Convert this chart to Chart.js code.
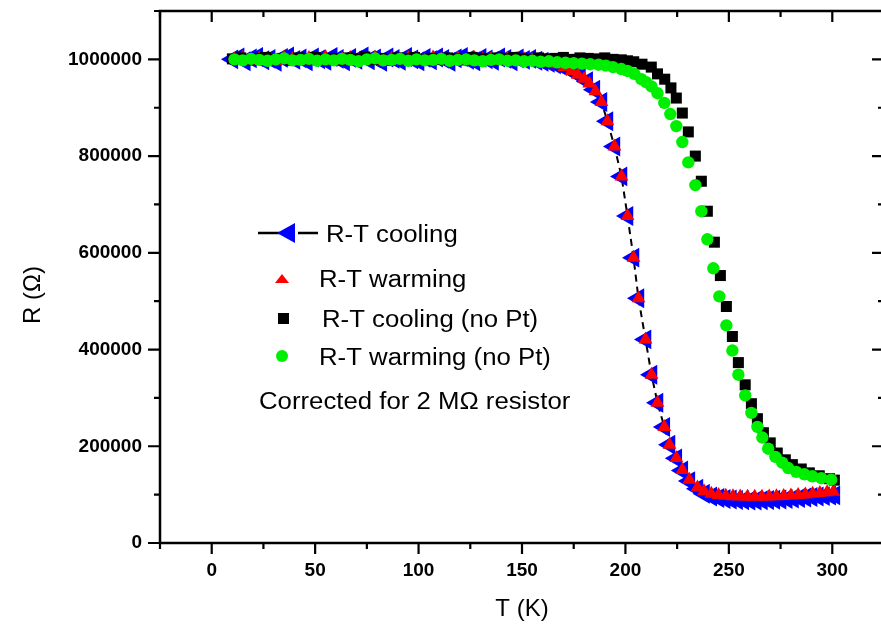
<!DOCTYPE html>
<html>
<head>
<meta charset="utf-8">
<script src="https://cdn.jsdelivr.net/npm/chart.js@4"></script>
<style>
  html, body { margin: 0; padding: 0; background: #fff; overflow: hidden; }
  #wrap { width: 890px; height: 626px; }
</style>
</head>
<body>
<div id="wrap"><canvas id="graficoRT" width="890" height="626"></canvas></div>
<script>
// R-T cooling (blue triangles + dashed line)
const coolT = [10,13,16,19,22,25,28,31,34,37,40,43,46,49,52,55,58,61,64,67,70,73,76,79,82,85,88,91,94,97,
  100,103,106,109,112,115,118,121,124,127,130,133,136,139,142,145,148,151,154,157,160,163,166,169,172,175,178,
  181.5,185,188.4,191.3,194.7,198.1,201,203.9,206.3,209.7,212.6,215.5,218.8,221.3,224.6,227.5,230.9,234.8,238,241.5,245,
  248,251,254,257,260,263,266,269,272,275,278,281,284,287,290,293,296,299,301];
const coolR = [1000000,1004000,996000,1002000,1005000,998000,1001000,995000,1003000,1006000,
  999000,1002000,996000,1004000,1000000,997000,1005000,1001000,996000,1003000,
  999000,1006000,998000,1002000,995000,1004000,1001000,997000,1005000,1000000,
  996000,1003000,998000,1004000,1001000,995000,1002000,1005000,999000,996000,
  1003000,1000000,997000,1004000,1001000,996000,1002000,999000,1001000,997000,
  995000,993000,990000,986000,981000,974000,966000,
  955000,937000,912000,872000,820000,758000,676000,590000,506000,421000,348000,290000,240000,203000,175000,150000,128000,112000,102000,96000,93000,
  91000,90000,89000,88500,88000,88000,88500,89000,89500,90000,91000,92000,93000,94000,95000,96000,97000,98000,98500];

// R-T warming (red triangles)
const warmT = [11,15,19,23,27,31,35,39,43,47,51,55,59,63,67,71,75,79,83,87,91,95,99,103,107,111,115,119,123,127,
  131,135,139,143,147,151,155,159,
  163,167,170.5,174,177,180,182.5,185.5,188.4,191.3,194.7,198.1,201,203.9,206.3,209.7,212.6,215.5,218.8,221.3,
  224.6,227.5,230.9,234.8,238,241.5,245,248.5,252,255.5,259,262.5,266,269.5,273,276.5,280,283.5,287,290.5,294,297.5,300.5];
const warmR = [999000,1003000,997000,1002000,1000000,996000,1004000,1001000,998000,1003000,
  999000,1005000,997000,1001000,1003000,998000,1000000,1004000,996000,1002000,
  999000,1003000,1001000,997000,1004000,1000000,998000,1002000,996000,1003000,
  1000000,1001000,997000,1002000,999000,1000000,998000,996000,
  994000,990000,984000,976000,968000,960000,950000,934000,912000,872000,
  820000,758000,676000,590000,506000,421000,348000,290000,240000,203000,
  176000,151000,131000,115000,107000,102000,99000,97500,96500,96000,
  95500,95500,95500,96000,96500,97000,98000,99000,100500,102000,103500,105000,106000];

// R-T cooling (no Pt) (black squares)
const coolNoPtT = [10,14,18,22,26,30,34,38,42,46,50,54,58,62,66,70,74,78,82,86,90,94,98,102,106,110,114,118,122,126,
  130,134,138,142,146,150,154,158,162,166,170,174,178,182,186,190,194,198,
  201,204,208,212.5,215.5,219,222,224.6,227.5,230.4,233.8,236.7,239.6,243,245.9,248.8,251.7,254.6,257.9,260.9,
  263.8,266.7,270,273.4,277.3,280.7,285,288.9,293.7,298.6,301];
const coolNoPtR = [1001000,1003000,999000,1002000,1004000,1000000,1002000,998000,1003000,1001000,
  1004000,1000000,1002000,999000,1003000,1001000,1005000,1000000,1002000,998000,
  1003000,1001000,1004000,999000,1002000,1000000,1003000,1001000,999000,1004000,
  1002000,1000000,1003000,1001000,1004000,1002000,999000,1003000,1001000,1002000,
  1004000,1000000,1003000,1002000,1001000,1003000,1000000,999000,
  997000,995000,990000,984000,970000,959000,941000,920000,889000,850000,
  800000,748000,686000,622000,553000,489000,427000,373000,327000,288000,
  257000,228000,207000,186000,172000,162000,153000,145000,139000,133000,130000];

// R-T warming (no Pt) (green circles)
const warmNoPtT = [11,15,19,23,27,31,35,39,43,47,51,55,59,63,67,71,75,79,83,87,91,95,99,103,107,111,115,119,123,127,
  131,135,139,143,147,151,155,159,163,167,171,175,179,183,
  187,190.5,194,198,201,204.3,207.7,210,212.6,215.5,218.8,221.7,224.6,227.5,230.4,233.8,236.7,239.6,242.5,245.4,
  248.8,251.7,254.6,257.9,260.9,263.8,266.2,269,272.5,275.8,278.7,282.6,286.5,290.3,294.7,299.5];
const warmNoPtR = [1000000,998000,1001000,999000,997000,1000000,1002000,998000,999000,1001000,
  997000,1000000,998000,1001000,999000,996000,1000000,1002000,998000,999000,
  1001000,997000,1000000,998000,999000,1001000,997000,999000,1000000,998000,
  996000,999000,1000000,997000,998000,996000,997000,995000,996000,994000,
  993000,992000,991000,990000,
  989000,987000,984000,980000,976000,970000,959000,953000,944000,930000,
  910000,887000,862000,829000,787000,740000,686000,628000,568000,510000,
  450000,398000,348000,305000,269000,240000,218000,195000,178000,166000,
  155000,147000,142000,138000,134000,131000];

const xTicksMin = -25, xTicksMax = 325, xStep = 25, xLabelStep = 50;
const yTicksMin = 0, yTicksMax = 1100000, yStep = 100000, yLabelStep = 200000, yLabelMax = 1000000;

const FONT = '"Liberation Sans", Arial, Helvetica, sans-serif';

function pairs(xs, ys) {
  return xs.map((x, i) => ({ x: x, y: ys[i] }));
}

// frame, inward/outward ticks, legend and axis titles
const framePlugin = {
  id: 'frame',
  afterDraw(chart) {
    const ctx = chart.ctx;
    const a = chart.chartArea;
    const xs = chart.scales.x, ys = chart.scales.y;
    ctx.save();
    ctx.strokeStyle = '#000';
    ctx.lineWidth = 2.5;
    ctx.strokeRect(a.left, a.top, a.right - a.left, a.bottom - a.top);

    ctx.lineWidth = 2.2;
    ctx.beginPath();
    xs.ticks.forEach(t => {
      const px = xs.getPixelForValue(t.value);
      const len = t.value % xLabelStep === 0 ? 11 : 6;
      ctx.moveTo(px, a.bottom); ctx.lineTo(px, a.bottom + len);
      ctx.moveTo(px, a.top); ctx.lineTo(px, a.top + len);
    });
    ys.ticks.forEach(t => {
      const py = ys.getPixelForValue(t.value);
      const len = t.value % yLabelStep === 0 ? 12 : 6;
      ctx.moveTo(a.left - len, py); ctx.lineTo(a.left, py);
      ctx.moveTo(a.right - len, py); ctx.lineTo(a.right, py);
    });
    ctx.stroke();

    // axis titles
    ctx.fillStyle = '#000';
    ctx.font = '24px ' + FONT;
    ctx.textAlign = 'center';
    ctx.textBaseline = 'middle';
    ctx.fillText('T (K)', (a.left + a.right) / 2, 609);
    ctx.save();
    ctx.translate(33, 295);
    ctx.rotate(-Math.PI / 2);
    ctx.fillText('R (\u03A9)', 0, 0);
    ctx.restore();

    // legend markers
    ctx.lineWidth = 2.5;
    ctx.beginPath();
    ctx.moveTo(258, 233); ctx.lineTo(280, 233);
    ctx.moveTo(298, 233); ctx.lineTo(318, 233);
    ctx.stroke();
    ctx.fillStyle = '#0000ff';
    ctx.beginPath();
    ctx.moveTo(277, 233); ctx.lineTo(295, 223); ctx.lineTo(295, 243); ctx.closePath();
    ctx.fill();

    ctx.fillStyle = '#ff0000';
    ctx.beginPath();
    ctx.moveTo(282, 274); ctx.lineTo(289, 283); ctx.lineTo(275, 283); ctx.closePath();
    ctx.fill();

    ctx.fillStyle = '#000';
    ctx.fillRect(278, 313, 11, 11);

    ctx.fillStyle = '#00ee00';
    ctx.beginPath();
    ctx.arc(282, 356, 6, 0, Math.PI * 2);
    ctx.fill();

    // legend texts (slightly wide lettering)
    ctx.fillStyle = '#000';
    ctx.font = '23px ' + FONT;
    ctx.textAlign = 'left';
    ctx.textBaseline = 'alphabetic';
    const texts = [
      ['R-T cooling', 326, 242],
      ['R-T warming', 319, 287],
      ['R-T cooling (no Pt)', 322, 327],
      ['R-T warming (no Pt)', 319, 365],
      ['Corrected for 2 M\u03A9 resistor', 259, 409]
    ];
    texts.forEach(([s, x, y]) => {
      ctx.save();
      ctx.translate(x, y);
      ctx.scale(1.12, 1);
      ctx.fillText(s, 0, 0);
      ctx.restore();
    });
    ctx.restore();
  }
};

new Chart(document.getElementById('graficoRT'), {
  type: 'scatter',
  data: {
    datasets: [
      {
        label: 'R-T cooling',
        data: pairs(coolT, coolR),
        showLine: true,
        borderColor: '#000',
        borderWidth: 2,
        borderDash: [7, 5],
        pointStyle: 'triangle',
        pointRotation: -90,
        pointRadius: 11.5,
        pointBackgroundColor: '#0000ff',
        pointBorderWidth: 0,
        order: 3
      },
      {
        label: 'R-T warming',
        data: pairs(warmT, warmR),
        pointStyle: 'triangle',
        pointRadius: 8,
        pointBackgroundColor: '#ff0000',
        pointBorderWidth: 0,
        order: 2
      },
      {
        label: 'R-T cooling (no Pt)',
        data: pairs(coolNoPtT, coolNoPtR),
        pointStyle: 'rect',
        pointRadius: 7.8,
        pointBackgroundColor: '#000000',
        pointBorderWidth: 0,
        order: 1
      },
      {
        label: 'R-T warming (no Pt)',
        data: pairs(warmNoPtT, warmNoPtR),
        pointStyle: 'circle',
        pointRadius: 6.2,
        pointBackgroundColor: '#00ee00',
        pointBorderWidth: 0,
        order: 0
      }
    ]
  },
  options: {
    responsive: false,
    animation: false,
    events: [],
    layout: { autoPadding: false, padding: { top: 11, right: 6, bottom: 0, left: 0 } },
    plugins: { legend: { display: false }, tooltip: { enabled: false } },
    scales: {
      x: {
        type: 'linear',
        min: xTicksMin,
        max: xTicksMax,
        grid: { display: false, drawTicks: false },
        border: { display: false },
        ticks: {
          stepSize: xStep,
          autoSkip: false,
          maxRotation: 0,
          padding: 16,
          color: '#000',
          font: { family: FONT, size: 19, weight: 'bold' },
          callback: v => (v >= 0 && v % xLabelStep === 0) ? String(v) : ''
        },
        afterFit: s => { s.height = 83; s.paddingLeft = 0; s.paddingRight = 0; }
      },
      y: {
        type: 'linear',
        min: yTicksMin,
        max: yTicksMax,
        grid: { display: false, drawTicks: false },
        border: { display: false },
        ticks: {
          stepSize: yStep,
          autoSkip: false,
          padding: 18,
          color: '#000',
          font: { family: FONT, size: 19, weight: 'bold' },
          callback: v => (v % yLabelStep === 0 && v <= yLabelMax) ? String(v) : ''
        },
        afterFit: s => { s.width = 160; s.paddingTop = 0; s.paddingBottom = 0; }
      }
    }
  },
  plugins: [framePlugin]
});
</script>
</body>
</html>
